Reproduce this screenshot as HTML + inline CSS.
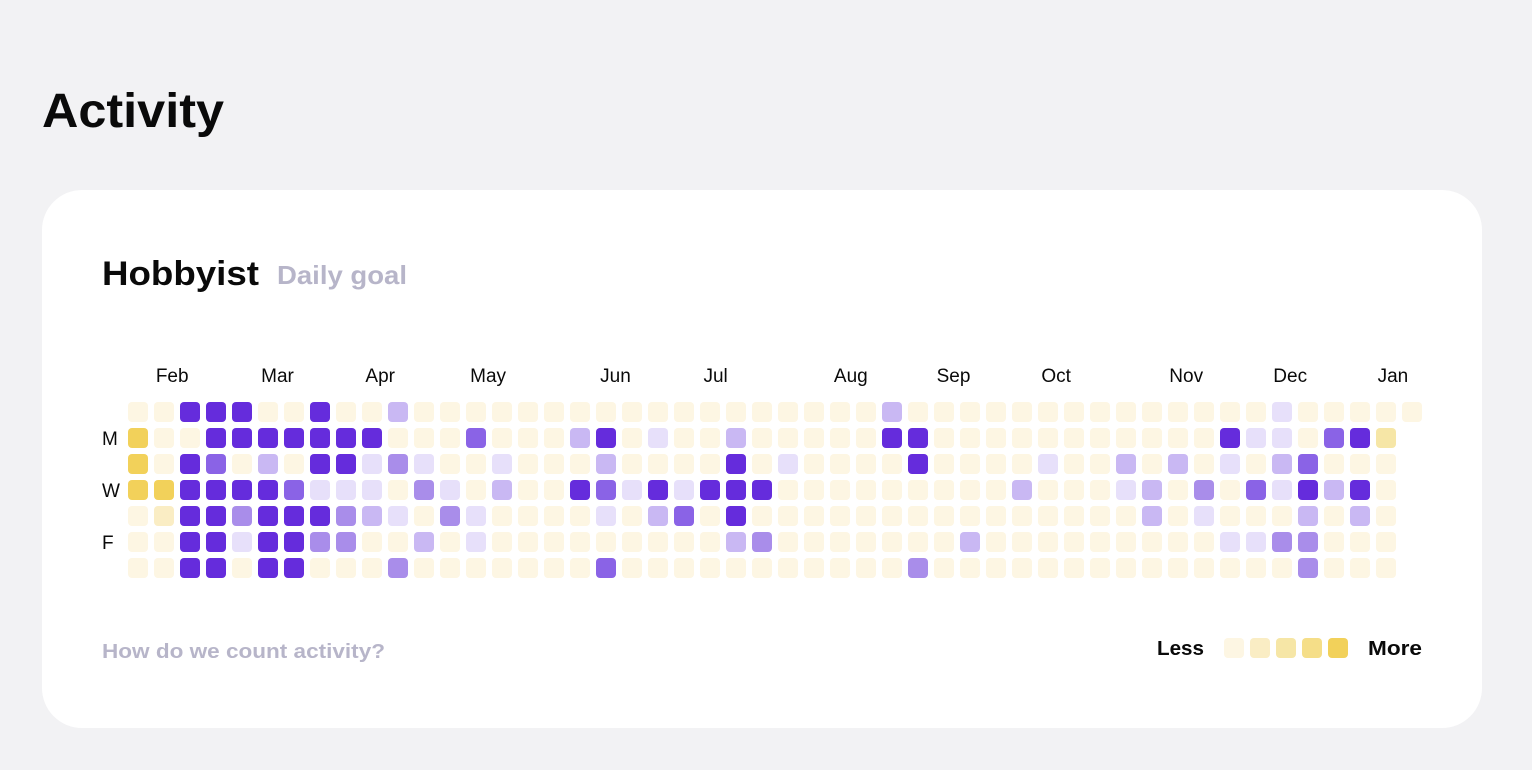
<!DOCTYPE html>
<html><head><meta charset="utf-8"><style>
html,body{margin:0;padding:0;background:#f2f2f4;}
svg{display:block;font-family:"Liberation Sans",sans-serif;}
</style></head><body>
<svg id="chart" width="1532" height="770" viewBox="0 0 1532 770">
<text x="42" y="127" font-size="48" font-weight="bold" fill="#0a0a0a" textLength="182" lengthAdjust="spacingAndGlyphs">Activity</text>
<rect x="42" y="190" width="1440" height="538" rx="40" fill="#ffffff"/>
<text x="102" y="285" font-size="34" font-weight="bold" fill="#0a0a0a" textLength="157" lengthAdjust="spacingAndGlyphs">Hobbyist</text>
<text x="277" y="284" font-size="26" font-weight="bold" fill="#b7b5c9" textLength="130" lengthAdjust="spacingAndGlyphs">Daily goal</text>
<g id="months"></g>
<g id="days"></g>
<g id="cells"></g>
<text x="102" y="658" font-size="20" font-weight="bold" fill="#b7b5c9" textLength="283" lengthAdjust="spacingAndGlyphs">How do we count activity?</text>
<text x="1157" y="655" font-size="20" font-weight="bold" fill="#0a0a0a" textLength="47" lengthAdjust="spacingAndGlyphs">Less</text>
<g id="legend"></g>
<text x="1368" y="655" font-size="20" font-weight="bold" fill="#0a0a0a" textLength="54" lengthAdjust="spacingAndGlyphs">More</text>
</svg>
<script>
// Heatmap data: one string per weekday row, one char per week column
// '.'=0, a..e = purple levels 1..5, y/z/Y = yellow levels
const rows = [
  "..eee..e..b..................b..............a.....",
  "Y..eeeeeee...d...be.a..b.....ee...........eaa.dez",
  "Y.ed.b.eeaca..a...b....e.a....e....a..b.b.a.bd...",
  "YYeeeedaaa.ca.b..edaeaeee.........b...ab.c.daebe.",
  ".yeeceeecba.ca....a.bd.e...............b.a...b.b.",
  "..eeaeecc..b.a.........bc.......b.........aacc...",
  "..ee.ee...c.......d...........c..............c..."
];
const monthNames = ["Feb","Mar","Apr","May","Jun","Jul","Aug","Sep","Oct","Nov","Dec","Jan"];
const monthCols = [1.7,5.75,9.7,13.85,18.75,22.6,27.8,31.75,35.7,40.7,44.7,48.65];
const dayNames = ["M","W","F"];
const dayRows = [1,3,5];
const legendLevels = [".","y","z","Z","Y"];

const palette = {".":"#fdf6e3","a":"#e7e0fa","b":"#c9b8f3","c":"#a98dea","d":"#8a63e6","e":"#652cdc","y":"#faedc4","z":"#f6e6a6","Z":"#f5de88","Y":"#f2d15a"};
const NS = "http://www.w3.org/2000/svg";
const x0 = 128, y0 = 402, pitch = 26, size = 20;
const xCol = c => x0 + c * pitch;
const yRow = r => y0 + r * pitch;

const cells = document.getElementById("cells");
rows.forEach((row, r) => {
  [...row].forEach((ch, c) => {
    const el = document.createElementNS(NS, "rect");
    el.setAttribute("x", xCol(c)); el.setAttribute("y", yRow(r));
    el.setAttribute("width", size); el.setAttribute("height", size);
    el.setAttribute("rx", 4); el.setAttribute("fill", palette[ch]);
    
    
    cells.appendChild(el);
  });
});
const months = document.getElementById("months");
monthNames.forEach((m, i) => {
  const t = document.createElementNS(NS, "text");
  t.setAttribute("x", xCol(monthCols[i]));
  t.setAttribute("y", 382); t.setAttribute("font-size", "19");
  t.setAttribute("text-anchor", "middle"); t.setAttribute("fill", "#0a0a0a");
  t.textContent = m;
  
  
  months.appendChild(t);
});
const days = document.getElementById("days");
dayNames.forEach((d, i) => {
  const t = document.createElementNS(NS, "text");
  t.setAttribute("x", 102); t.setAttribute("y", yRow(dayRows[i]) + 17);
  t.setAttribute("font-size", "19"); t.setAttribute("fill", "#0a0a0a");
  t.textContent = d;
  
  
  days.appendChild(t);
});
const legend = document.getElementById("legend");
legendLevels.forEach((l, i) => {
  const el = document.createElementNS(NS, "rect");
  el.setAttribute("x", 1224 + i * 26); el.setAttribute("y", 638);
  el.setAttribute("width", size); el.setAttribute("height", size);
  el.setAttribute("rx", 4); el.setAttribute("fill", palette[l]);
  
  
  legend.appendChild(el);
});
</script>
</body></html>
